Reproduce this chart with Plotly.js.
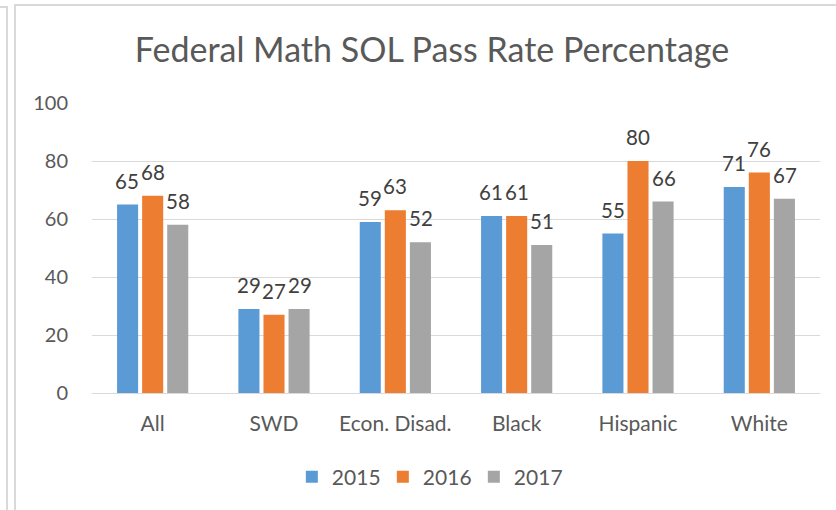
<!DOCTYPE html>
<html>
<head>
<meta charset="utf-8">
<script src="https://cdn.plot.ly/plotly-3.0.1.min.js"></script>
<style>
  body { margin: 0; background: #fff; }
  #edge { position: absolute; left: 0; top: 6px; width: 6px; height: 504px; border-right: 2px solid #d9d9d9; border-top: 2px solid #d9d9d9; }
  #chart { position: absolute; left: 14px; top: 4px; width: 822px; height: 506px; border-left: 2px solid #d9d9d9; border-top: 2px solid #d9d9d9; }
</style>
</head>
<body>
<div id="edge"></div>
<div id="chart"></div>
<script>
// chart data
const groups = ['All', 'SWD', 'Econ. Disad.', 'Black', 'Hispanic', 'White'];
const years = ['2015', '2016', '2017'];
const rate2015 = [65, 29, 59, 61, 55, 71];
const rate2016 = [68, 27, 63, 61, 80, 76];
const rate2017 = [58, 29, 52, 51, 66, 67];
const yTicks = [0, 20, 40, 60, 80, 100];

const colors = ['#5b9bd5', '#ed7d31', '#a5a5a5'];
const font = 'Lato, "Open Sans", sans-serif';
const series = [rate2015, rate2016, rate2017];

const data = series.map(function(values, i) {
  return {
    name: years[i],
    type: 'bar',
    x: groups,
    y: values,
    marker: {color: colors[i]},
    hoverinfo: 'x+y+name'
  };
});

// value labels above each bar (Excel puts them a bit higher than plotly's outside text)
const slot = 25.5;
const labels = [];
series.forEach(function(values, i) {
  values.forEach(function(v, j) {
    labels.push({
      x: groups[j],
      y: v,
      xref: 'x',
      yref: 'y',
      text: String(v),
      showarrow: false,
      xshift: (i - 1) * slot,
      yanchor: 'bottom',
      yshift: 10,
      font: {family: font, size: 20.5, color: '#404040'}
    });
  });
});

const layout = {
  width: 822,
  height: 506,
  margin: {l: 76, r: 18, t: 97, b: 119},
  paper_bgcolor: '#fff',
  plot_bgcolor: '#fff',
  font: {family: font, size: 20, color: '#595959'},
  title: {
    text: 'Federal Math SOL Pass Rate Percentage',
    font: {family: font, size: 34, color: '#595959'},
    x: 0.506,
    xref: 'container',
    xanchor: 'center',
    y: 0.913,
    yref: 'container',
    yanchor: 'middle'
  },
  barmode: 'group',
  bargap: 0.38,
  bargroupgap: 0.16,
  showlegend: true,
  legend: {
    orientation: 'h',
    x: 0.462,
    xanchor: 'center',
    y: -0.29,
    yanchor: 'middle',
    font: {family: font, size: 21, color: '#595959'},
    itemwidth: 30,
    entrywidth: 46,
    entrywidthmode: 'pixels',
    traceorder: 'normal'
  },
  annotations: labels,
  xaxis: {
    type: 'category',
    showgrid: false,
    showline: true,
    linecolor: '#d9d9d9',
    linewidth: 1,
    ticks: '',
    tickfont: {family: font, size: 21, color: '#595959'},
    ticklabelstandoff: 12
  },
  yaxis: {
    range: [0, 100],
    tickvals: yTicks,
    showgrid: true,
    gridcolor: '#d9d9d9',
    gridwidth: 1,
    zeroline: false,
    showline: false,
    ticks: '',
    ticklabelstandoff: 23,
    tickfont: {family: font, size: 20, color: '#595959'}
  }
};

Plotly.newPlot('chart', data, layout, {displayModeBar: false, responsive: false});
</script>
</body>
</html>
